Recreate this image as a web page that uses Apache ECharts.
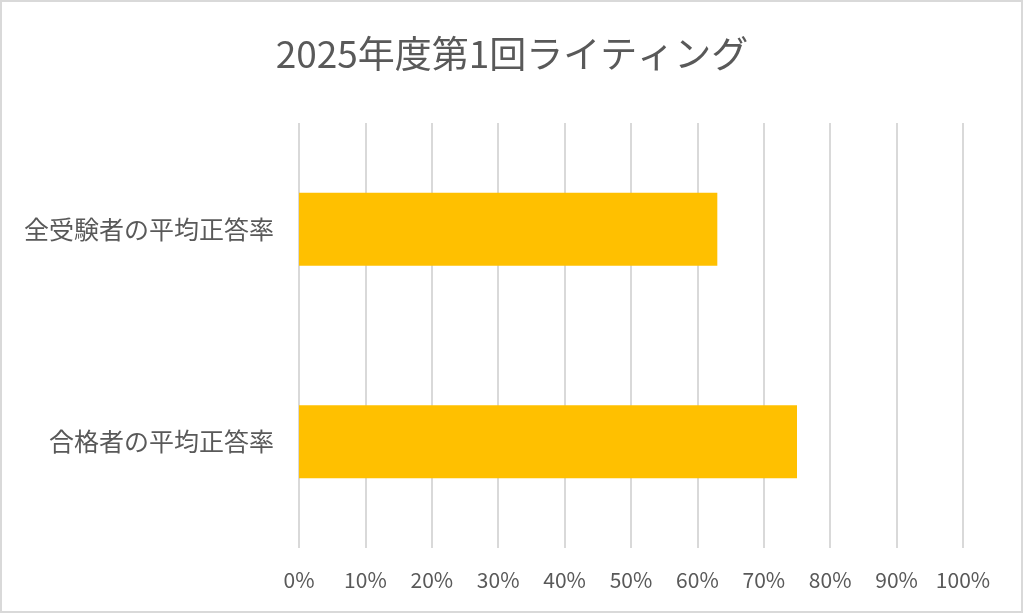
<!DOCTYPE html>
<html>
<head>
<meta charset="utf-8">
<script src="https://cdn.jsdelivr.net/npm/echarts@6/dist/echarts.min.js"></script>
<style>
  html, body { margin: 0; padding: 0; background: #fff; }
  #chart { width: 1024px; height: 615px; }
</style>
</head>
<body>
<div id="chart"></div>
<script>
const chartTitle = '2025年度第1回ライティング';
const categories = ['合格者の平均正答率', '全受験者の平均正答率'];
const values = [75, 63];
const tickValues = [0, 10, 20, 30, 40, 50, 60, 70, 80, 90, 100];

window.addEventListener('load', function() {
    renderBarChart();
});

function renderBarChart() {
    const chartDom = document.getElementById('chart');
    const myChart = echarts.init(chartDom);
    const font = '"Noto Sans CJK JP", "Noto Sans", sans-serif';

    const option = {
        backgroundColor: '#fff',
        animation: false,
        title: {
            text: chartTitle,
            left: 'center',
            top: 30,
            textStyle: { color: '#595959', fontSize: 37, fontWeight: 'normal', fontFamily: font }
        },
        graphic: [{
            type: 'rect',
            shape: { x: 1, y: 1, width: 1021, height: 611 },
            style: { fill: 'none', stroke: '#d9d9d9', lineWidth: 2 },
            silent: true
        }],
        grid: {
            left: 299,
            right: 61,
            top: 123,
            bottom: 67,
            containLabel: false
        },
        xAxis: {
            type: 'value',
            min: tickValues[0],
            max: tickValues[tickValues.length - 1],
            interval: 10,
            axisLine: { show: false },
            axisTick: { show: false },
            splitLine: { show: true, lineStyle: { color: '#d9d9d9', width: 2 } },
            axisLabel: {
                color: '#595959',
                fontSize: 21,
                fontFamily: font,
                margin: 22,
                formatter: v => v + '%'
            }
        },
        yAxis: {
            type: 'category',
            data: categories,
            axisLine: { show: false },
            axisTick: { show: false },
            axisLabel: { color: '#595959', fontSize: 25, fontFamily: font, margin: 25 }
        },
        series: [{
            type: 'bar',
            data: values,
            barWidth: 73,
            itemStyle: { color: '#ffc000' }
        }]
    };

    myChart.setOption(option);
}
</script>
</body>
</html>
